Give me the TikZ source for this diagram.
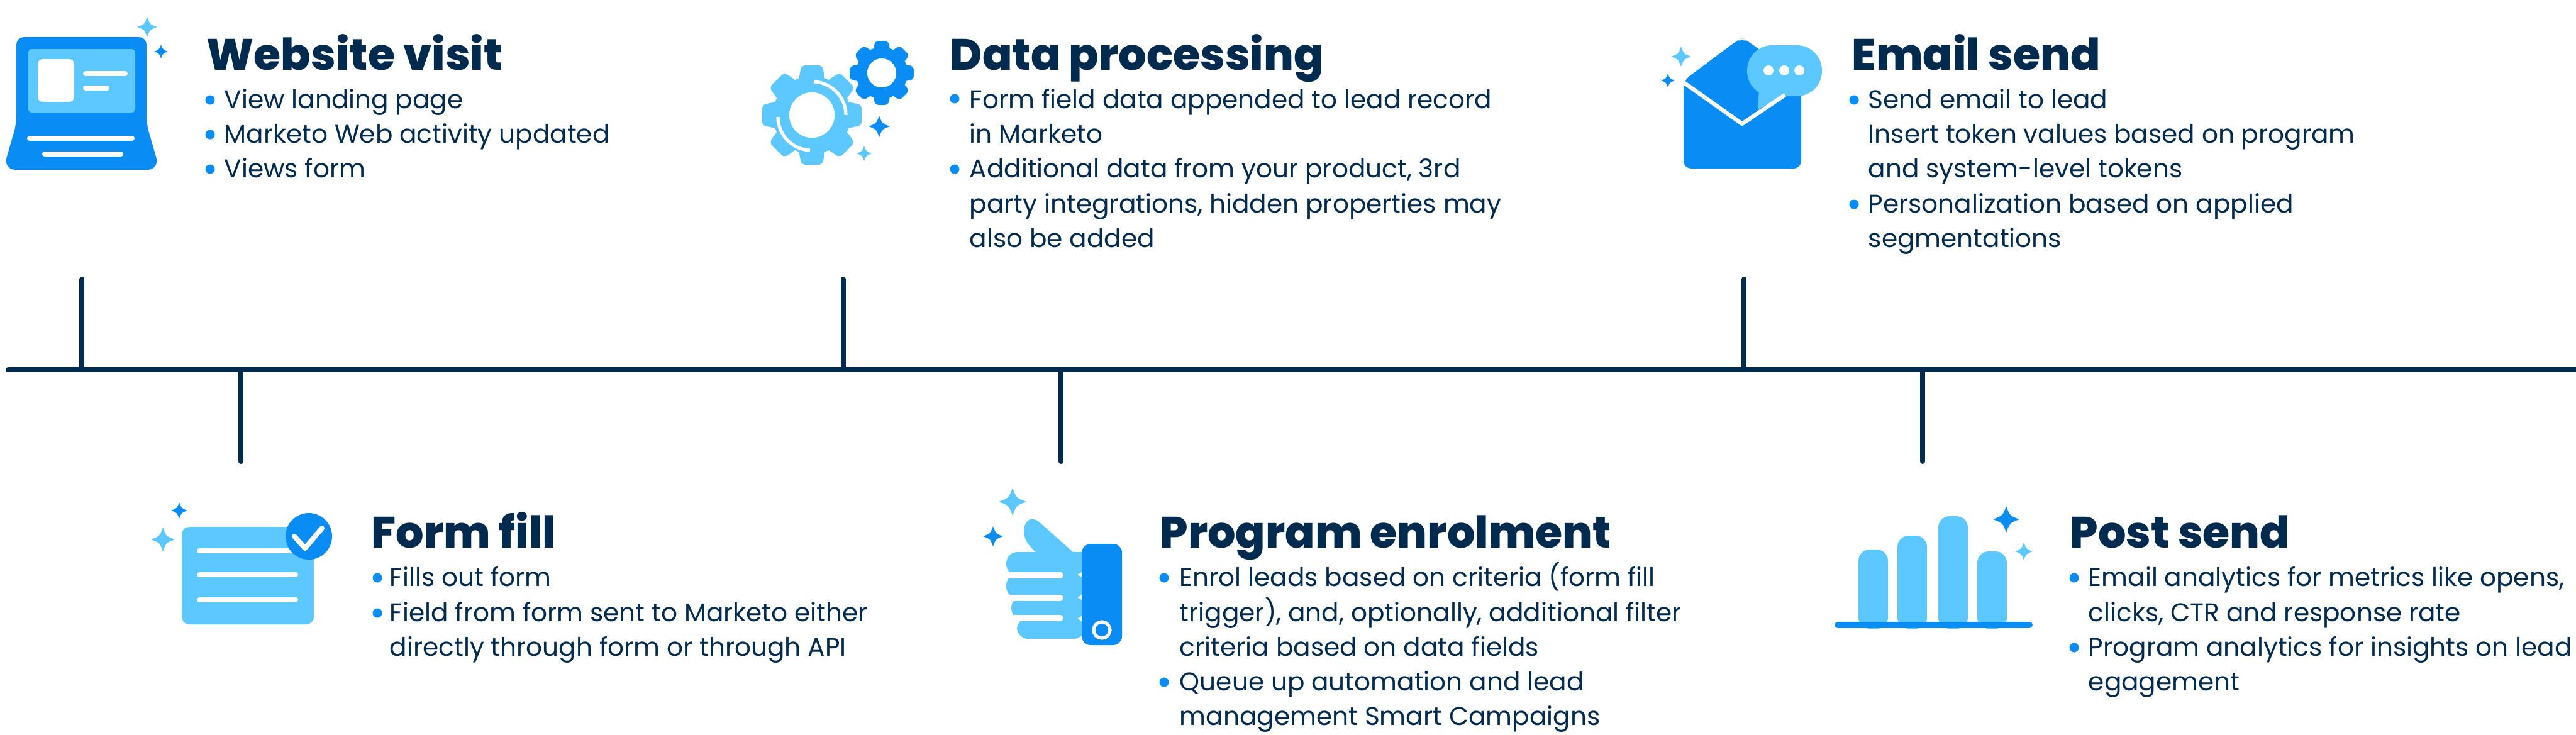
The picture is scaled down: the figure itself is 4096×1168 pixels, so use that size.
\documentclass[tikz,border=0pt]{standalone}
\usepackage{fontspec}
\setmainfont{Poppins}
\newfontfamily\ttlfont{Poppins}[UprightFont=* ExtraBold]
\definecolor{navy}{HTML}{002B4F}
\definecolor{blueD}{HTML}{0A8CF5}
\definecolor{blueL}{HTML}{5CC8FF}
\newcommand{\spk}[4]{\fill[#4] (#1,#2-#3) .. controls (#1+.27*#3,#2-.27*#3) .. (#1+#3,#2) .. controls (#1+.27*#3,#2+.27*#3) .. (#1,#2+#3) .. controls (#1-.27*#3,#2+.27*#3) .. (#1-#3,#2) .. controls (#1-.27*#3,#2-.27*#3) .. cycle;}
\newcommand{\ttl}[4]{\node[titletext] (#1) at (#2,#3) {#4};}
\newcommand{\bodyl}[4]{\node[bodytext] (#1) at (#2,#3) {#4};}
\newcommand{\bull}[2]{\fill[blueD] (#1,#2) circle[radius=7.5];}
\newcommand{\gear}[7]{% x y outer root hole toothwidth color
  \foreach \a in {0,45,...,315}{\fill[#7,rotate around={\a:(#1,#2)},rounded corners=1.5pt] (#1-#6*.62,#2-#5-6) -- (#1-#6*.62,#2-#4+2) -- (#1-#6/2,#2-#3) -- (#1+#6/2,#2-#3) -- (#1+#6*.62,#2-#4+2) -- (#1+#6*.62,#2-#5-6) -- cycle;}
  \fill[#7,even odd rule] (#1,#2) circle[radius=#4] (#1,#2) circle[radius=#5];}
\tikzset{
  titletext/.style={anchor=base west,inner sep=0pt,text=navy,font=\fontsize{17.46pt}{20pt}\selectfont\ttlfont},
  bodytext/.style={anchor=base west,inner sep=0pt,text=navy,font=\fontsize{10.16pt}{12pt}\selectfont},
  tline/.style={draw=navy,line width=2pt,line cap=round},
  wline/.style={draw=white,line width=2pt,line cap=round},
}
\begin{document}
\begin{tikzpicture}[x=0.25pt,y=-0.25pt]
\useasboundingbox (0,0) rectangle (4096,1168);
% timeline
\coordinate (tlL) at (13,588); \coordinate (tlR) at (4096,588);
\draw[tline] (tlL) -- (tlR);
\coordinate (u1) at (130,444); \coordinate (u1b) at (130,588); \draw[tline] (u1) -- (u1b);
\coordinate (u2) at (1341,444); \coordinate (u2b) at (1341,588); \draw[tline] (u2) -- (u2b);
\coordinate (u3) at (2773,444); \coordinate (u3b) at (2773,588); \draw[tline] (u3) -- (u3b);
\coordinate (d1) at (383,734); \coordinate (d1b) at (383,588); \draw[tline] (d1) -- (d1b);
\coordinate (d2) at (1687,734); \coordinate (d2b) at (1687,588); \draw[tline] (d2) -- (d2b);
\coordinate (d3) at (3057,734); \coordinate (d3b) at (3057,588); \draw[tline] (d3) -- (d3b);
% laptop
\fill[blueD,rounded corners=3pt] (26,59) -- (233,59) -- (233,197) [rounded corners=5pt] -- (254,270) -- (5,270) [rounded corners=3pt] -- (26,197) -- cycle;
\fill[blueL,rounded corners=1.5pt] (45,78) rectangle (215,179);
\fill[white,rounded corners=2pt] (60,94) rectangle (118,162);
\draw[wline] (136,117) -- (199,117); \draw[wline] (136,140) -- (170,140);
\draw[wline] (47,220) -- (210,220); \draw[wline] (71,245) -- (192,245);
\spk{234}{43}{16}{blueL} \spk{256}{82}{11}{blueD}
% gears
\gear{1291}{183}{79}{62}{36}{33}{blueL}
\fill[white] (1291,183) circle[radius=36];
\draw[wline,line width=1.3pt,line cap=butt] (1345,183) arc[start angle=0,end angle=-88,radius=53];
\draw[wline,line width=1.3pt,line cap=butt] (1237,186) arc[start angle=180,end angle=92,radius=53];
\gear{1402}{116}{51}{41}{23}{21}{blueD}
\fill[white] (1402,116) circle[radius=23];
\spk{1398}{201}{17}{blueD} \spk{1374}{244}{12}{blueL}
% envelope
\fill[blueD,rounded corners=3pt] (2677,128) -- (2760,66) -- (2770,61) -- (2780,66) -- (2864,128) -- (2864,268) -- (2677,268) -- cycle;
\fill[blueL,rounded corners=10pt] (2778,72) rectangle (2897,153);
\fill[blueL] (2797,140) -- (2795,175) -- (2836,150) -- cycle;
\draw[wline,line width=1.6pt,line cap=butt,line join=round] (2677,131) -- (2770,197) -- (2838,151);
\fill[white] (2812,112) circle[radius=8] (2837,112) circle[radius=8] (2861,112) circle[radius=8];
\spk{2673}{90}{16}{blueL} \spk{2652}{128}{11}{blueD}
% form
\fill[blueL,rounded corners=3pt] (289,838) rectangle (499,993);
\draw[wline] (317,876) -- (470,876); \draw[wline] (317,914) -- (470,914); \draw[wline] (317,954) -- (470,954);
\fill[blueD] (491,853) circle[radius=37];
\draw[wline,line join=round] (468,853) -- (485,872) -- (512,840);
\spk{285}{812}{13}{blueD} \spk{259}{858}{19}{blueL}
% thumb
\fill[blueL] (1725,878) -- (1706,878) -- (1652,830) .. controls (1640,820) and (1628,828) .. (1628,845) .. controls (1628,860) and (1638,870) .. (1648,879) -- (1725,890) -- cycle;
\fill[blueL,rounded corners=4.5pt] (1725,878) -- (1600,878) -- (1600,915) -- (1725,915) -- cycle;
\fill[blueL,rounded corners=4.5pt] (1725,913) -- (1600,913) -- (1600,951) -- (1725,951) -- cycle;
\fill[blueL,rounded corners=4.5pt] (1725,949) -- (1608,949) -- (1608,985) -- (1725,985) -- cycle;
\fill[blueL,rounded corners=4.5pt] (1725,983) -- (1617,983) -- (1617,1016) -- (1725,1016) -- cycle;
\fill[blueD,rounded corners=3.5pt] (1720,865) rectangle (1784,1026);
\draw[white,line width=2.3pt,line cap=round] (1605,915) -- (1686,915) (1605,951) -- (1686,951) (1612,983) -- (1686,983);
\draw[white,line width=1.3pt] (1752,1002) circle[radius=13];
\spk{1610}{798}{22}{blueL} \spk{1579}{853}{16}{blueD}
% bars
\fill[blueL,rounded corners=4.5pt] (2955,1000) -- (2955,874) -- (3002,874) -- (3002,1000) -- cycle;
\fill[blueL,rounded corners=4.5pt] (3017,1000) -- (3017,852) -- (3064,852) -- (3064,1000) -- cycle;
\fill[blueL,rounded corners=4.5pt] (3082,1000) -- (3082,821) -- (3129,821) -- (3129,1000) -- cycle;
\fill[blueL,rounded corners=4.5pt] (3144,1000) -- (3144,877) -- (3191,877) -- (3191,1000) -- cycle;
\draw[blueD,line width=2.5pt,line cap=round] (2922,994) -- (3227,994);
\spk{3190}{826}{21}{blueD} \spk{3218}{877}{14}{blueL}
% texts
\ttl{t1}{328}{111}{Website visit}
\bull{334}{159}\bodyl{a1}{356}{172}{View landing page}
\bull{334}{214}\bodyl{a2}{356}{227}{Marketo Web activity updated}
\bull{334}{269}\bodyl{a3}{356}{282}{Views form}
\ttl{t2}{1510}{111}{Data processing}
\bull{1518}{157}\bodyl{b1}{1541}{172}{Form field data appended to lead record}
\bodyl{b2}{1541}{227}{in Marketo}
\bull{1518}{269}\bodyl{b3}{1541}{282}{Additional data from your product, 3rd}
\bodyl{b4}{1541}{338}{party integrations, hidden properties may}
\bodyl{b5}{1541}{393}{also be added}
\ttl{t3}{2944}{111}{Email send}
\bull{2948}{159}\bodyl{c1}{2970}{172}{Send email to lead}
\bodyl{c2}{2970}{227}{Insert token values based on program}
\bodyl{c3}{2970}{282}{and system-level tokens}
\bull{2948}{325}\bodyl{c4}{2970}{338}{Personalization based on applied}
\bodyl{c5}{2970}{393}{segmentations}
\ttl{t4}{590}{871}{Form fill}
\bull{600}{919}\bodyl{d1t}{619}{932}{Fills out form}
\bull{600}{975}\bodyl{d2t}{619}{988}{Field from form sent to Marketo either}
\bodyl{d3t}{619}{1043}{directly through form or through API}
\ttl{t5}{1844}{871}{Program enrolment}
\bull{1851}{919}\bodyl{e1}{1875}{932}{Enrol leads based on criteria (form fill}
\bodyl{e2}{1875}{988}{trigger), and, optionally, additional filter}
\bodyl{e3}{1875}{1043}{criteria based on data fields}
\bull{1851}{1085}\bodyl{e4}{1875}{1098}{Queue up automation and lead}
\bodyl{e5}{1875}{1153}{management Smart Campaigns}
\ttl{t6}{3291}{871}{Post send}
\bull{3298}{919}\bodyl{f1}{3320}{932}{Email analytics for metrics like opens,}
\bodyl{f2}{3320}{988}{clicks, CTR and response rate}
\bull{3298}{1030}\bodyl{f3}{3320}{1043}{Program analytics for insights on lead}
\bodyl{f4}{3320}{1098}{egagement}
\end{tikzpicture}
\end{document}
